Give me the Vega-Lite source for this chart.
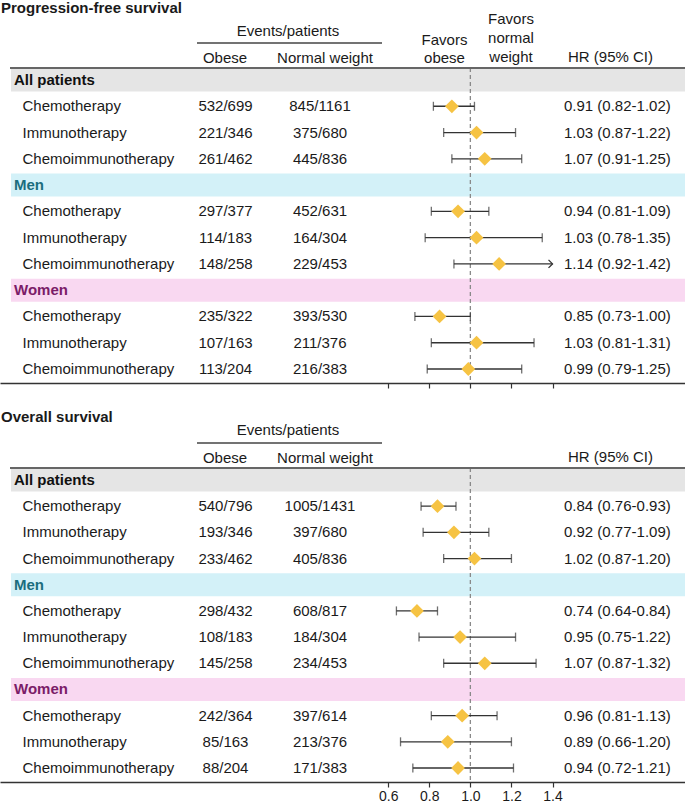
{
  "$schema": "https://vega.github.io/schema/vega-lite/v6.json",
  "padding": 0,
  "background": "white",
  "spacing": 17,
  "bounds": "flush",
  "datasets": {
    "groups": [
      {"key": "All patients", "group": "All patients"},
      {"key": "Men", "group": "Men"},
      {"key": "Women", "group": "Women"}
    ],
    "pfs": [
      {"key": "All patients|Chemotherapy", "group": "All patients", "treatment": "Chemotherapy", "obese": "532/699", "normal": "845/1161", "hr": 0.91, "lo": 0.82, "hi": 1.02, "ci": "0.91 (0.82-1.02)"},
      {"key": "All patients|Immunotherapy", "group": "All patients", "treatment": "Immunotherapy", "obese": "221/346", "normal": "375/680", "hr": 1.03, "lo": 0.87, "hi": 1.22, "ci": "1.03 (0.87-1.22)"},
      {"key": "All patients|Chemoimmunotherapy", "group": "All patients", "treatment": "Chemoimmunotherapy", "obese": "261/462", "normal": "445/836", "hr": 1.07, "lo": 0.91, "hi": 1.25, "ci": "1.07 (0.91-1.25)"},
      {"key": "Men|Chemotherapy", "group": "Men", "treatment": "Chemotherapy", "obese": "297/377", "normal": "452/631", "hr": 0.94, "lo": 0.81, "hi": 1.09, "ci": "0.94 (0.81-1.09)"},
      {"key": "Men|Immunotherapy", "group": "Men", "treatment": "Immunotherapy", "obese": "114/183", "normal": "164/304", "hr": 1.03, "lo": 0.78, "hi": 1.35, "ci": "1.03 (0.78-1.35)"},
      {"key": "Men|Chemoimmunotherapy", "group": "Men", "treatment": "Chemoimmunotherapy", "obese": "148/258", "normal": "229/453", "hr": 1.14, "lo": 0.92, "hi": 1.42, "ci": "1.14 (0.92-1.42)"},
      {"key": "Women|Chemotherapy", "group": "Women", "treatment": "Chemotherapy", "obese": "235/322", "normal": "393/530", "hr": 0.85, "lo": 0.73, "hi": 1.0, "ci": "0.85 (0.73-1.00)"},
      {"key": "Women|Immunotherapy", "group": "Women", "treatment": "Immunotherapy", "obese": "107/163", "normal": "211/376", "hr": 1.03, "lo": 0.81, "hi": 1.31, "ci": "1.03 (0.81-1.31)"},
      {"key": "Women|Chemoimmunotherapy", "group": "Women", "treatment": "Chemoimmunotherapy", "obese": "113/204", "normal": "216/383", "hr": 0.99, "lo": 0.79, "hi": 1.25, "ci": "0.99 (0.79-1.25)"}
    ],
    "os": [
      {"key": "All patients|Chemotherapy", "group": "All patients", "treatment": "Chemotherapy", "obese": "540/796", "normal": "1005/1431", "hr": 0.84, "lo": 0.76, "hi": 0.93, "ci": "0.84 (0.76-0.93)"},
      {"key": "All patients|Immunotherapy", "group": "All patients", "treatment": "Immunotherapy", "obese": "193/346", "normal": "397/680", "hr": 0.92, "lo": 0.77, "hi": 1.09, "ci": "0.92 (0.77-1.09)"},
      {"key": "All patients|Chemoimmunotherapy", "group": "All patients", "treatment": "Chemoimmunotherapy", "obese": "233/462", "normal": "405/836", "hr": 1.02, "lo": 0.87, "hi": 1.2, "ci": "1.02 (0.87-1.20)"},
      {"key": "Men|Chemotherapy", "group": "Men", "treatment": "Chemotherapy", "obese": "298/432", "normal": "608/817", "hr": 0.74, "lo": 0.64, "hi": 0.84, "ci": "0.74 (0.64-0.84)"},
      {"key": "Men|Immunotherapy", "group": "Men", "treatment": "Immunotherapy", "obese": "108/183", "normal": "184/304", "hr": 0.95, "lo": 0.75, "hi": 1.22, "ci": "0.95 (0.75-1.22)"},
      {"key": "Men|Chemoimmunotherapy", "group": "Men", "treatment": "Chemoimmunotherapy", "obese": "145/258", "normal": "234/453", "hr": 1.07, "lo": 0.87, "hi": 1.32, "ci": "1.07 (0.87-1.32)"},
      {"key": "Women|Chemotherapy", "group": "Women", "treatment": "Chemotherapy", "obese": "242/364", "normal": "397/614", "hr": 0.96, "lo": 0.81, "hi": 1.13, "ci": "0.96 (0.81-1.13)"},
      {"key": "Women|Immunotherapy", "group": "Women", "treatment": "Immunotherapy", "obese": "85/163", "normal": "213/376", "hr": 0.89, "lo": 0.66, "hi": 1.2, "ci": "0.89 (0.66-1.20)"},
      {"key": "Women|Chemoimmunotherapy", "group": "Women", "treatment": "Chemoimmunotherapy", "obese": "88/204", "normal": "171/383", "hr": 0.94, "lo": 0.72, "hi": 1.21, "ci": "0.94 (0.72-1.21)"}
    ]
  },
  "vconcat": [
    {
      "width": 685,
      "height": 383,
      "data": {"name": "pfs"},
      "encoding": {
        "y": {"field": "key", "type": "ordinal", "axis": null, "scale": {"type": "point", "padding": 0, "range": [80, 369], "domain": ["All patients", "All patients|Chemotherapy", "All patients|Immunotherapy", "All patients|Chemoimmunotherapy", "Men", "Men|Chemotherapy", "Men|Immunotherapy", "Men|Chemoimmunotherapy", "Women", "Women|Chemotherapy", "Women|Immunotherapy", "Women|Chemoimmunotherapy"]}}
      },
      "layer": [
        {"data": {"name": "groups"}, "mark": {"type": "bar", "size": 23}, "encoding": {"x": {"datum": -1.2364}, "x2": {"datum": 2.045}, "fill": {"field": "group", "type": "nominal", "legend": null, "scale": {"domain": ["All patients", "Men", "Women"], "range": ["#e5e5e5", "#d3f1f8", "#f9d8f1"]}}}},
        {"data": {"values": [{}]}, "mark": {"type": "rule", "color": "#8a8a8a", "strokeDash": [4, 3], "strokeWidth": 1.3, "yOffset": -12, "y2Offset": 14}, "encoding": {"x": {"datum": 1}, "y": {"datum": "All patients", "type": "ordinal"}, "y2": {"datum": "Women|Chemoimmunotherapy"}}},
        {"data": {"values": [{}]}, "mark": {"type": "rule", "color": "#666666", "strokeWidth": 2, "yOffset": -12}, "encoding": {"x": {"datum": -1.2413}, "x2": {"datum": 2.045}, "y": {"datum": "All patients", "type": "ordinal"}}},
        {"data": {"values": [{}]}, "mark": {"type": "rule", "color": "#444444", "strokeWidth": 1.6, "yOffset": -37}, "encoding": {"x": {"datum": -0.3309}, "x2": {"datum": 0.5698}, "y": {"datum": "All patients", "type": "ordinal"}}},
        {"data": {"values": [{"t": "Progression-free survival"}]}, "mark": {"type": "text", "align": "left", "fontWeight": "bold", "dy": -72}, "encoding": {"text": {"field": "t"}, "x": {"datum": -1.2851}, "y": {"datum": "All patients", "type": "ordinal"}}},
        {"data": {"values": [{"t": "Events/patients"}]}, "mark": {"type": "text", "align": "center", "dy": -49}, "encoding": {"text": {"field": "t"}, "x": {"datum": 0.1121}, "y": {"datum": "All patients", "type": "ordinal"}}},
        {"data": {"values": [{"t": "Obese"}]}, "mark": {"type": "text", "align": "center", "dy": -22}, "encoding": {"text": {"field": "t"}, "x": {"datum": -0.1946}, "y": {"datum": "All patients", "type": "ordinal"}}},
        {"data": {"values": [{"t": "Normal weight"}]}, "mark": {"type": "text", "align": "center", "dy": -22}, "encoding": {"text": {"field": "t"}, "x": {"datum": 0.2923}, "y": {"datum": "All patients", "type": "ordinal"}}},
        {"data": {"values": [{"t": "Favors"}]}, "mark": {"type": "text", "align": "center", "dy": -40}, "encoding": {"text": {"field": "t"}, "x": {"datum": 0.8741}, "y": {"datum": "All patients", "type": "ordinal"}}},
        {"data": {"values": [{"t": "obese"}]}, "mark": {"type": "text", "align": "center", "dy": -22}, "encoding": {"text": {"field": "t"}, "x": {"datum": 0.8741}, "y": {"datum": "All patients", "type": "ordinal"}}},
        {"data": {"values": [{"t": "Favors"}]}, "mark": {"type": "text", "align": "center", "dy": -61}, "encoding": {"text": {"field": "t"}, "x": {"datum": 1.1978}, "y": {"datum": "All patients", "type": "ordinal"}}},
        {"data": {"values": [{"t": "normal"}]}, "mark": {"type": "text", "align": "center", "dy": -42}, "encoding": {"text": {"field": "t"}, "x": {"datum": 1.1978}, "y": {"datum": "All patients", "type": "ordinal"}}},
        {"data": {"values": [{"t": "weight"}]}, "mark": {"type": "text", "align": "center", "dy": -23}, "encoding": {"text": {"field": "t"}, "x": {"datum": 1.1978}, "y": {"datum": "All patients", "type": "ordinal"}}},
        {"data": {"values": [{"t": "HR (95% CI)"}]}, "mark": {"type": "text", "align": "center", "dy": -23}, "encoding": {"text": {"field": "t"}, "x": {"datum": 1.6823}, "y": {"datum": "All patients", "type": "ordinal"}}},
        {"data": {"name": "groups"}, "mark": {"type": "text", "align": "left", "fontWeight": "bold"}, "encoding": {"text": {"field": "group"}, "x": {"datum": -1.2218}, "color": {"field": "group", "type": "nominal", "legend": null, "scale": {"domain": ["All patients", "Men", "Women"], "range": ["#111111", "#1b6e7e", "#7b1c68"]}}}},
        {"mark": {"type": "text", "align": "left"}, "encoding": {"text": {"field": "treatment"}, "x": {"datum": -1.1805}}},
        {"mark": {"type": "text", "align": "center"}, "encoding": {"text": {"field": "obese"}, "x": {"datum": -0.1921}}},
        {"mark": {"type": "text", "align": "center"}, "encoding": {"text": {"field": "normal"}, "x": {"datum": 0.2679}}},
        {"mark": {"type": "text", "align": "left"}, "encoding": {"text": {"field": "ci"}, "x": {"datum": 1.4559}}},
        {"transform": [{"filter": "datum.hi <= 1.4"}], "mark": {"type": "rule", "color": "#333333", "strokeWidth": 1.3}, "encoding": {"x": {"field": "lo", "type": "quantitative"}, "x2": {"field": "hi"}}},
        {"transform": [{"filter": "datum.hi > 1.4"}], "mark": {"type": "rule", "color": "#333333", "strokeWidth": 1.3}, "encoding": {"x": {"field": "lo", "type": "quantitative"}, "x2": {"datum": 1.4}}},
        {"mark": {"type": "tick", "color": "#333333", "size": 9, "thickness": 1.3}, "encoding": {"x": {"field": "lo", "type": "quantitative"}}},
        {"transform": [{"filter": "datum.hi <= 1.4"}], "mark": {"type": "tick", "color": "#333333", "size": 9, "thickness": 1.3}, "encoding": {"x": {"field": "hi", "type": "quantitative"}}},
        {"transform": [{"filter": "datum.hi > 1.4"}], "mark": {"type": "point", "shape": "M-1,-1L0,0L-1,1", "size": 64, "filled": false, "stroke": "#333333", "strokeWidth": 1.3, "opacity": 1}, "encoding": {"x": {"datum": 1.4}}},
        {"mark": {"type": "point", "shape": "diamond", "filled": true, "color": "#f6c343", "opacity": 1, "size": 190}, "encoding": {"x": {"field": "hr", "type": "quantitative", "scale": {"domain": [-1.29, 2.045], "nice": false, "zero": false}, "axis": {"values": [0.6, 0.8, 1.0, 1.2, 1.4], "labels": false, "title": null, "grid": false, "domainColor": "#333333", "domainWidth": 1.5, "tickColor": "#333333", "tickSize": 5, "tickWidth": 1.2}}}}
      ]
    },
    {
      "width": 685,
      "height": 382,
      "data": {"name": "os"},
      "encoding": {
        "y": {"field": "key", "type": "ordinal", "axis": null, "scale": {"type": "point", "padding": 0, "range": [80, 368], "domain": ["All patients", "All patients|Chemotherapy", "All patients|Immunotherapy", "All patients|Chemoimmunotherapy", "Men", "Men|Chemotherapy", "Men|Immunotherapy", "Men|Chemoimmunotherapy", "Women", "Women|Chemotherapy", "Women|Immunotherapy", "Women|Chemoimmunotherapy"]}}
      },
      "layer": [
        {"data": {"name": "groups"}, "mark": {"type": "bar", "size": 23}, "encoding": {"x": {"datum": -1.2364}, "x2": {"datum": 2.045}, "fill": {"field": "group", "type": "nominal", "legend": null, "scale": {"domain": ["All patients", "Men", "Women"], "range": ["#e5e5e5", "#d3f1f8", "#f9d8f1"]}}}},
        {"data": {"values": [{}]}, "mark": {"type": "rule", "color": "#8a8a8a", "strokeDash": [4, 3], "strokeWidth": 1.3, "yOffset": -12, "y2Offset": 14}, "encoding": {"x": {"datum": 1}, "y": {"datum": "All patients", "type": "ordinal"}, "y2": {"datum": "Women|Chemoimmunotherapy"}}},
        {"data": {"values": [{}]}, "mark": {"type": "rule", "color": "#666666", "strokeWidth": 2, "yOffset": -12}, "encoding": {"x": {"datum": -1.2413}, "x2": {"datum": 2.045}, "y": {"datum": "All patients", "type": "ordinal"}}},
        {"data": {"values": [{}]}, "mark": {"type": "rule", "color": "#444444", "strokeWidth": 1.6, "yOffset": -37}, "encoding": {"x": {"datum": -0.3309}, "x2": {"datum": 0.5698}, "y": {"datum": "All patients", "type": "ordinal"}}},
        {"data": {"values": [{"t": "Overall survival"}]}, "mark": {"type": "text", "align": "left", "fontWeight": "bold", "dy": -63}, "encoding": {"text": {"field": "t"}, "x": {"datum": -1.2851}, "y": {"datum": "All patients", "type": "ordinal"}}},
        {"data": {"values": [{"t": "Events/patients"}]}, "mark": {"type": "text", "align": "center", "dy": -50}, "encoding": {"text": {"field": "t"}, "x": {"datum": 0.1121}, "y": {"datum": "All patients", "type": "ordinal"}}},
        {"data": {"values": [{"t": "Obese"}]}, "mark": {"type": "text", "align": "center", "dy": -22}, "encoding": {"text": {"field": "t"}, "x": {"datum": -0.1946}, "y": {"datum": "All patients", "type": "ordinal"}}},
        {"data": {"values": [{"t": "Normal weight"}]}, "mark": {"type": "text", "align": "center", "dy": -22}, "encoding": {"text": {"field": "t"}, "x": {"datum": 0.2923}, "y": {"datum": "All patients", "type": "ordinal"}}},
        {"data": {"values": [{"t": "HR (95% CI)"}]}, "mark": {"type": "text", "align": "center", "dy": -23}, "encoding": {"text": {"field": "t"}, "x": {"datum": 1.6823}, "y": {"datum": "All patients", "type": "ordinal"}}},
        {"data": {"name": "groups"}, "mark": {"type": "text", "align": "left", "fontWeight": "bold"}, "encoding": {"text": {"field": "group"}, "x": {"datum": -1.2218}, "color": {"field": "group", "type": "nominal", "legend": null, "scale": {"domain": ["All patients", "Men", "Women"], "range": ["#111111", "#1b6e7e", "#7b1c68"]}}}},
        {"mark": {"type": "text", "align": "left"}, "encoding": {"text": {"field": "treatment"}, "x": {"datum": -1.1805}}},
        {"mark": {"type": "text", "align": "center"}, "encoding": {"text": {"field": "obese"}, "x": {"datum": -0.1921}}},
        {"mark": {"type": "text", "align": "center"}, "encoding": {"text": {"field": "normal"}, "x": {"datum": 0.2679}}},
        {"mark": {"type": "text", "align": "left"}, "encoding": {"text": {"field": "ci"}, "x": {"datum": 1.4559}}},
        {"mark": {"type": "rule", "color": "#333333", "strokeWidth": 1.3}, "encoding": {"x": {"field": "lo", "type": "quantitative"}, "x2": {"field": "hi"}}},
        {"mark": {"type": "tick", "color": "#333333", "size": 9, "thickness": 1.3}, "encoding": {"x": {"field": "lo", "type": "quantitative"}}},
        {"mark": {"type": "tick", "color": "#333333", "size": 9, "thickness": 1.3}, "encoding": {"x": {"field": "hi", "type": "quantitative"}}},
        {"mark": {"type": "point", "shape": "diamond", "filled": true, "color": "#f6c343", "opacity": 1, "size": 190}, "encoding": {"x": {"field": "hr", "type": "quantitative", "scale": {"domain": [-1.29, 2.045], "nice": false, "zero": false}, "axis": {"values": [0.6, 0.8, 1.0, 1.2, 1.4], "labels": true, "format": ".1f", "labelFontSize": 14, "labelColor": "#1a1a1a", "labelPadding": 2, "title": null, "grid": false, "domainColor": "#333333", "domainWidth": 1.5, "tickColor": "#333333", "tickSize": 5, "tickWidth": 1.2}}}}
      ]
    }
  ],
  "config": {
    "view": {"stroke": null},
    "font": "Liberation Sans",
    "text": {"color": "#1a1a1a", "fontSize": 15, "baseline": "middle"}
  }
}
